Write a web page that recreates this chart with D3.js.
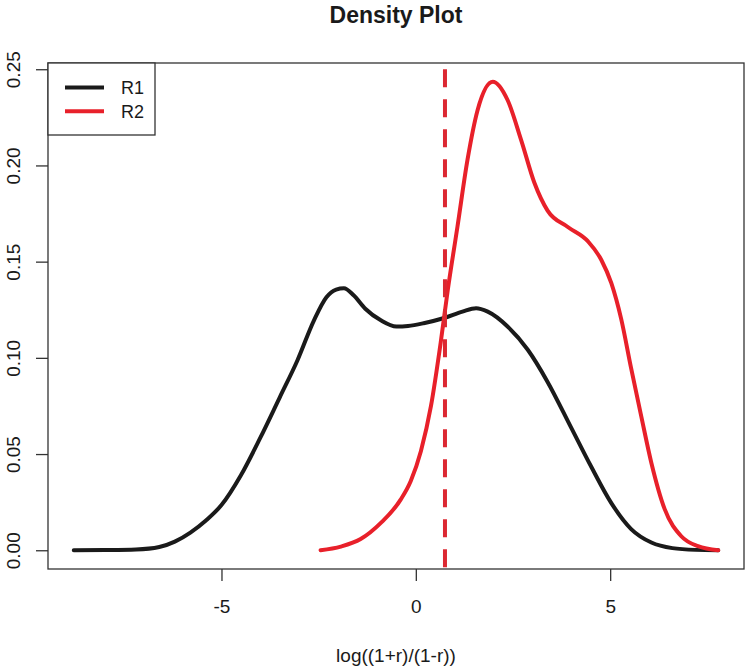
<!DOCTYPE html>
<html><head><meta charset="utf-8">
<script src="https://cdn.jsdelivr.net/npm/d3@7"></script>
<style>body{margin:0;background:#fff}svg{display:block}text{font-family:"Liberation Sans",Arial,sans-serif;fill:#1a1a1a}</style>
</head><body><svg id="c" width="750" height="671"></svg>
<script>
const r1X = [-8.8, -8.0, -7.2, -6.6, -6.2, -5.8, -5.4, -5.0, -4.5, -4.0, -3.5, -3.05, -2.62, -2.3, -2.05, -1.85, -1.6, -1.3, -0.9, -0.5, -0.2, 0.2, 0.73, 1.2, 1.55, 1.85, 2.36, 2.88, 3.39, 3.99, 4.51, 5.03, 5.54, 6.06, 6.6, 7.2, 7.78];
const r1Y = [0, 0.0001, 0.0004, 0.0017, 0.0045, 0.0092, 0.0155, 0.0235, 0.039, 0.0585, 0.0795, 0.0985, 0.1195, 0.1315, 0.1355, 0.1362, 0.1325, 0.1255, 0.1195, 0.1163, 0.1166, 0.118, 0.1207, 0.124, 0.1258, 0.124, 0.1163, 0.1042, 0.0875, 0.064, 0.0435, 0.0245, 0.011, 0.004, 0.0011, 0.0002, 0];
const r2X = [-2.45, -1.93, -1.42, -0.9, -0.39, -0.13, 0.13, 0.39, 0.64, 0.82, 1.07, 1.33, 1.59, 1.98, 2.36, 2.71, 3.05, 3.39, 3.91, 4.43, 4.77, 5.03, 5.28, 5.54, 5.8, 6.06, 6.4, 6.83, 7.26, 7.78];
const r2Y = [0, 0.0019, 0.0058, 0.0142, 0.0263, 0.036, 0.0515, 0.075, 0.108, 0.135, 0.168, 0.203, 0.2288, 0.2435, 0.234, 0.2132, 0.191, 0.1765, 0.168, 0.1605, 0.151, 0.1388, 0.1205, 0.0945, 0.0696, 0.0454, 0.0215, 0.0073, 0.0021, 0];
const cutoff = 0.75;
const cutoffTop = 0.25;
const xTicks = [-5, 0, 5];
const yTicks = [0, 0.05, 0.10, 0.15, 0.20, 0.25];
const seriesNames = ["R1", "R2"];
const seriesColors = ["#1a1a1a", "#e8202a"];
const title = "Density Plot";
const xLabel = "log((1+r)/(1-r))";

const svg = d3.select("#c");
const L = 48, R = 744, T = 63, B = 569;
const x = d3.scaleLinear().domain([-9.463, 8.443]).range([L, R]);
const y = d3.scaleLinear().domain([-0.00974, 0.25324]).range([B, T]);

// box
svg.append("rect").attr("x", L).attr("y", T).attr("width", R - L).attr("height", B - T)
  .attr("fill", "none").attr("stroke", "#333").attr("stroke-width", 1.3);

// axes
const xa = svg.append("g").attr("transform", `translate(0,${B})`)
  .call(d3.axisBottom(x).tickValues(xTicks).tickSize(12).tickFormat(d => String(d)));
const ya = svg.append("g").attr("transform", `translate(${L},0)`)
  .call(d3.axisLeft(y).tickValues(yTicks).tickSize(12).tickFormat(d3.format(".2f")));
[xa, ya].forEach(a => {
  a.select(".domain").remove();
  a.selectAll(".tick line").attr("stroke", "#333").attr("stroke-width", 1.3);
  a.selectAll("text").style("font-size", "19px").attr("fill", "#1a1a1a");
});
xa.selectAll("text").attr("dy", "0.71em").attr("y", 31);
ya.selectAll("text").attr("x", null).attr("dy", null)
  .attr("transform", "translate(-28,0) rotate(-90)").attr("text-anchor", "middle").attr("y", 0);

const line = d3.line().x(d => x(d[0])).y(d => y(d[1])).curve(d3.curveMonotoneX);
const s1 = r1X.map((v, i) => [v, r1Y[i]]);
const s2 = r2X.map((v, i) => [v, r2Y[i]]);
svg.append("path").attr("d", line(s1)).attr("fill", "none").attr("stroke", seriesColors[0])
  .attr("stroke-width", 4).attr("stroke-linecap", "round").attr("stroke-linejoin", "round");
svg.append("path").attr("d", line(s2)).attr("fill", "none").attr("stroke", seriesColors[1])
  .attr("stroke-width", 4).attr("stroke-linecap", "round").attr("stroke-linejoin", "round");

// cutoff
svg.append("line").attr("x1", x(cutoff)).attr("x2", x(cutoff)).attr("y1", y(cutoffTop)).attr("y2", B)
  .attr("stroke", "#dc2832").attr("stroke-width", 4).attr("stroke-dasharray", "18 12");

// title & labels
svg.append("text").attr("x", (L + R) / 2).attr("y", 23).attr("text-anchor", "middle")
  .style("font-size", "23px").style("font-weight", "bold").text(title);
svg.append("text").attr("x", (L + R) / 2).attr("y", 662).attr("text-anchor", "middle")
  .style("font-size", "19px").text(xLabel);

// legend
const lg = svg.append("g");
lg.append("rect").attr("x", L).attr("y", T).attr("width", 107).attr("height", 72)
  .attr("fill", "#fff").attr("stroke", "#333").attr("stroke-width", 1.3);
seriesNames.forEach((n, i) => {
  const yy = 87.5 + i * 23.7;
  lg.append("line").attr("x1", 65).attr("x2", 104).attr("y1", yy).attr("y2", yy)
    .attr("stroke", seriesColors[i]).attr("stroke-width", 4);
  lg.append("text").attr("x", 121).attr("y", yy).attr("dy", "0.36em").style("font-size", "18px").text(n);
});
</script></body></html>
